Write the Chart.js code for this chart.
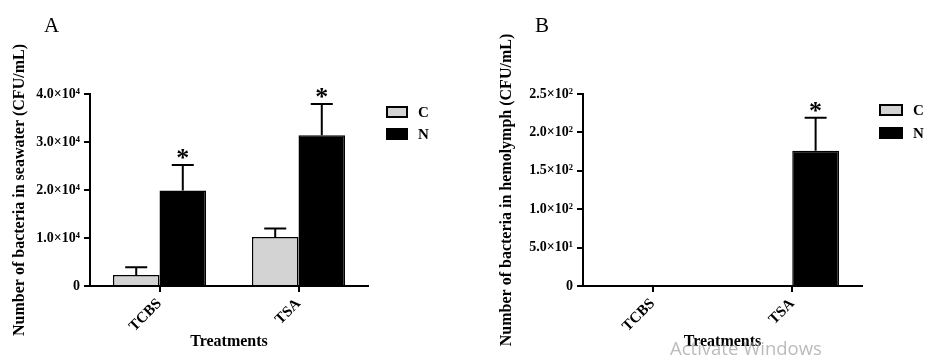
<!DOCTYPE html>
<html>
<head>
<meta charset="utf-8">
<script src="https://cdn.jsdelivr.net/npm/chart.js@4/dist/chart.umd.min.js"></script>
<style>
  html, body { margin: 0; padding: 0; background: #fff; overflow: hidden; }
  #wrap { position: relative; width: 941px; height: 362px; background: #fff; }
  .panel { position: absolute; top: 0; width: 470px; height: 362px; }
</style>
</head>
<body>
<div id="wrap">
  <div class="panel" style="left:0"><canvas id="cA" width="470" height="362"></canvas></div>
  <div class="panel" style="left:470px;width:471px"><canvas id="cB" width="471" height="362"></canvas></div>
</div>
<script>
// ---- data ----
const categories = ['TCBS', 'TSA'];
const seriesNames = ['C', 'N'];
const seriesColors = ['#d3d3d3', '#000000'];

// Panel A: seawater (CFU/mL)
const seawaterC = [2300, 10200];
const seawaterCErr = [1600, 1800];
const seawaterN = [19900, 31400];
const seawaterNErr = [5300, 6500];
const seawaterSigC = [false, false];
const seawaterSigN = [true, true];
const yTicksA = ['0', '1.0×10⁴', '2.0×10⁴', '3.0×10⁴', '4.0×10⁴'];

// Panel B: hemolymph (CFU/mL)
const hemoC = [0, 0];
const hemoCErr = [0, 0];
const hemoN = [0, 176];
const hemoNErr = [0, 43];
const hemoSigC = [false, false];
const hemoSigN = [false, true];
const yTicksB = ['0', '5.0×10¹', '1.0×10²', '1.5×10²', '2.0×10²', '2.5×10²'];

const SERIF = '"Liberation Serif", "Times New Roman", serif';

const errorBarPlugin = {
  id: 'errorBars',
  afterDatasetsDraw(chart) {
    const ctx = chart.ctx;
    const y = chart.scales.y;
    ctx.save();
    chart.data.datasets.forEach((ds, di) => {
      const meta = chart.getDatasetMeta(di);
      meta.data.forEach((bar, i) => {
        const err = ds.errors ? ds.errors[i] : 0;
        if (!err) return;
        const top = y.getPixelForValue(ds.data[i] + err);
        ctx.strokeStyle = '#000';
        ctx.lineWidth = 2;
        ctx.beginPath();
        ctx.moveTo(bar.x, bar.y);
        ctx.lineTo(bar.x, top);
        ctx.moveTo(bar.x - 11, top);
        ctx.lineTo(bar.x + 11, top);
        ctx.stroke();
        if (ds.sig && ds.sig[i]) {
          ctx.fillStyle = '#000';
          ctx.font = 'bold 26px ' + SERIF;
          ctx.textAlign = 'center';
          ctx.textBaseline = 'alphabetic';
          ctx.fillText('*', bar.x, top + 1);
        }
      });
    });
    ctx.restore();
  }
};

const decorPlugin = {
  id: 'decor',
  afterDraw(chart, args, opts) {
    const ctx = chart.ctx;
    ctx.save();
    // panel letter
    ctx.fillStyle = '#000';
    ctx.font = '21px ' + SERIF;
    ctx.textAlign = 'left';
    ctx.textBaseline = 'alphabetic';
    ctx.fillText(opts.letter, opts.letterX, 32);
    // legend
    chart.data.datasets.forEach((ds, i) => {
      const bx = opts.legX, by = opts.legY + i * opts.legGap;
      ctx.fillStyle = ds.backgroundColor;
      ctx.fillRect(bx, by, opts.legW, 10);
      ctx.strokeStyle = '#000';
      ctx.lineWidth = 2;
      ctx.strokeRect(bx, by, opts.legW, 10);
      ctx.fillStyle = '#000';
      ctx.font = 'bold 15px ' + SERIF;
      ctx.textBaseline = 'middle';
      ctx.fillText(ds.label, bx + opts.legW + 11, by + 6);
    });
    if (opts.watermark) {
      ctx.fillStyle = 'rgba(150,150,150,0.65)';
      ctx.font = '18.5px "Open Sans", "Noto Sans", sans-serif';
      ctx.textBaseline = 'alphabetic';
      ctx.textAlign = 'left';
      ctx.fillText(opts.watermark, 200, 355);
    }
    ctx.restore();
  }
};

function makeChart(id, cData, cErr, cSig, nData, nErr, nSig, yMax, yStep, yLabels, yTitle, yTitlePad, yWidth, padRight, decor) {
  return new Chart(document.getElementById(id), {
    type: 'bar',
    data: {
      labels: categories,
      datasets: [
        { label: seriesNames[0], data: cData, errors: cErr, sig: cSig,
          backgroundColor: seriesColors[0], borderColor: '#000', borderWidth: 1.5,
          categoryPercentage: 0.67, barPercentage: 1.0 },
        { label: seriesNames[1], data: nData, errors: nErr, sig: nSig,
          backgroundColor: seriesColors[1], borderColor: '#000', borderWidth: 1.5,
          categoryPercentage: 0.67, barPercentage: 1.0 }
      ]
    },
    options: {
      responsive: false,
      animation: false,
      layout: { padding: { left: 0, top: 94, right: padRight, bottom: 0 } },
      plugins: {
        legend: { display: false },
        tooltip: { enabled: false },
        decor: decor
      },
      scales: {
        x: {
          afterFit: (s) => { s.height = 76; },
          grid: { display: true, drawOnChartArea: false, drawTicks: true, tickLength: 6, color: '#000', lineWidth: 2, offset: false },
          border: { display: true, color: '#000', width: 2 },
          ticks: { color: '#000', font: { family: SERIF, weight: 'bold', size: 15 }, minRotation: 45, maxRotation: 45, padding: 3 },
          title: { display: true, text: 'Treatments', color: '#000', font: { family: SERIF, weight: 'bold', size: 16 }, padding: { top: 0, bottom: 11 } }
        },
        y: {
          min: 0, max: yMax,
          afterFit: (s) => { s.width = yWidth; },
          grid: { display: true, drawOnChartArea: false, drawTicks: true, tickLength: 6, color: '#000', lineWidth: 2 },
          border: { display: true, color: '#000', width: 2 },
          ticks: { stepSize: yStep, color: '#000', padding: 4,
                   font: { family: SERIF, weight: 'bold', size: 14 },
                   callback: (v, i) => yLabels[i] },
          title: { display: true, text: yTitle, color: '#000', font: { family: SERIF, weight: 'bold', size: 16 }, padding: { top: yTitlePad, bottom: 0 } }
        }
      }
    },
    plugins: [errorBarPlugin, decorPlugin]
  });
}

makeChart('cA', seawaterC, seawaterCErr, seawaterSigC, seawaterN, seawaterNErr, seawaterSigN,
  40000, 10000, yTicksA, 'Number of bacteria in seawater (CFU/mL)', 10, 90, 102,
  { letter: 'A', letterX: 44, legX: 387, legY: 107, legGap: 22, legW: 20 });

makeChart('cB', hemoC, hemoCErr, hemoSigC, hemoN, hemoNErr, hemoSigN,
  250, 50, yTicksB, 'Number of bacteria in hemolymph (CFU/mL)', 27, 113, 79,
  { letter: 'B', letterX: 65, legX: 410, legY: 105, legGap: 23, legW: 22, watermark: 'Activate Windows' });
</script>
</body>
</html>
